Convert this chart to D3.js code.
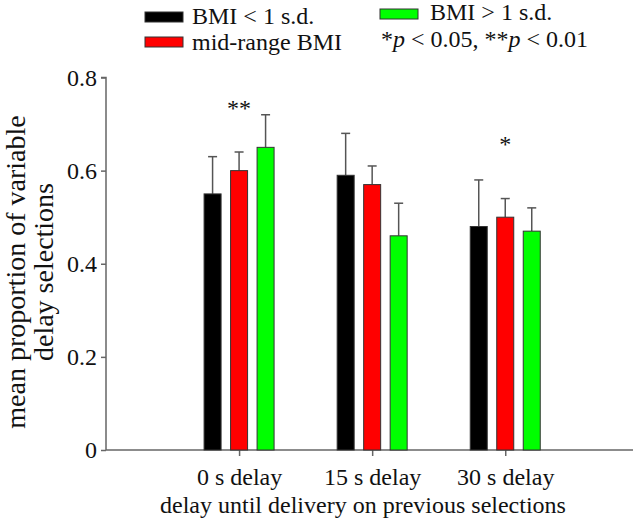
<!DOCTYPE html>
<html>
<head>
<meta charset="utf-8">
<script src="https://cdn.jsdelivr.net/npm/d3@7"></script>
<style>
  body { margin: 0; background: #fff; }
  svg text { font-family: "Liberation Serif", "Times New Roman", serif !important; fill: #111; }
</style>
</head>
<body>
<div id="vis"></div>
<script>
// categories and series
const categories = ["0 s delay", "15 s delay", "30 s delay"];
const series = ["BMI < 1 s.d.", "mid-range BMI", "BMI > 1 s.d."];
const colours = ["#000000", "#ff0000", "#00ff00"];

// mean values, one array per series (by category)
const lowBMI = [0.55, 0.59, 0.48];
const midBMI = [0.60, 0.57, 0.50];
const highBMI = [0.65, 0.46, 0.47];

// upper end of the error bars
const lowErr = [0.63, 0.68, 0.58];
const midErr = [0.64, 0.61, 0.54];
const highErr = [0.72, 0.53, 0.52];

// significance marks per category, and the level they sit at
const sigMarks = ["**", "", "*"];
const sigLevel = [0.736, 0, 0.66];

const yTicks = [0, 0.2, 0.4, 0.6, 0.8];

const width = 634;
const height = 523;

const means = [lowBMI, midBMI, highBMI];
const errs = [lowErr, midErr, highErr];

// flatten into bar records
const bars = [];
series.forEach((s, si) => {
  categories.forEach((c, ci) => {
    bars.push({ series: s, si: si, cat: c, ci: ci, value: means[si][ci], err: errs[si][ci] });
  });
});

const svg = d3.select('#vis')
  .append('svg')
  .attr('width', width)
  .attr('height', height)
  .attr('font-family', '"Liberation Serif", serif');

// scales
const x = d3.scaleLinear()
  .domain([0, 3.96])
  .range([106, 633]);

const offset = d3.scalePoint()
  .domain(series)
  .range([-26.5, 26.5]);

const y = d3.scaleLinear()
  .domain([0, 0.8])
  .range([450, 77.5]);

const fill = d3.scaleOrdinal().domain(series).range(colours);

const barWidth = 17;

// y axis
const yAxis = svg.append('g')
  .attr('transform', `translate(${x(0)},0)`)
  .call(d3.axisLeft(y).tickValues(yTicks).tickFormat(d => d === 0 ? '0' : d3.format('.1f')(d)).tickSize(5).tickPadding(4));

// x axis
const xAxis = svg.append('g')
  .attr('transform', `translate(0,${y(0)})`)
  .call(d3.axisBottom(x).tickValues([1, 2, 3]).tickFormat(d => categories[d - 1]).tickSize(6));

[yAxis, xAxis].forEach(ax => {
  ax.attr('font-family', '"Liberation Serif", serif');
  ax.select('.domain').attr('stroke', '#666').attr('stroke-width', 1.5);
  ax.selectAll('.tick line').attr('stroke', '#666').attr('stroke-width', 1.5);
  ax.selectAll('.tick text').style('font-size', '24px').attr('fill', '#111');
});
xAxis.select('.domain').attr('d', `M${x(0)},0H${x(3.96)}`);
yAxis.select('.domain').attr('d', `M-5,${y(0.8)}H0V${y(0)}`);
xAxis.selectAll('.tick text').attr('y', 18);

// error bars
const errG = svg.append('g');
errG.selectAll('line.stem')
  .data(bars)
  .enter()
  .append('line')
  .attr('x1', d => x(d.ci + 1) + offset(d.series))
  .attr('x2', d => x(d.ci + 1) + offset(d.series))
  .attr('y1', d => y(d.value))
  .attr('y2', d => y(d.err))
  .attr('stroke', '#555')
  .attr('stroke-width', 1.5);

errG.selectAll('line.cap')
  .data(bars)
  .enter()
  .append('line')
  .attr('x1', d => x(d.ci + 1) + offset(d.series) - 4.5)
  .attr('x2', d => x(d.ci + 1) + offset(d.series) + 4.5)
  .attr('y1', d => y(d.err))
  .attr('y2', d => y(d.err))
  .attr('stroke', '#555')
  .attr('stroke-width', 1.5);

// bars
svg.append('g')
  .selectAll('rect')
  .data(bars)
  .enter()
  .append('rect')
  .attr('x', d => x(d.ci + 1) + offset(d.series) - barWidth / 2)
  .attr('y', d => y(d.value))
  .attr('width', barWidth)
  .attr('height', d => y(0) - y(d.value))
  .attr('fill', d => fill(d.series))
  .attr('stroke', '#333')
  .attr('stroke-width', 1);

// significance asterisks
svg.append('g')
  .selectAll('text')
  .data(sigMarks.map((m, i) => ({ m: m, i: i, level: sigLevel[i] })).filter(d => d.m))
  .enter()
  .append('text')
  .attr('x', d => x(d.i + 1))
  .attr('y', d => y(d.level) + 9)
  .attr('text-anchor', 'middle')
  .style('font-size', '24px')
  .attr('fill', '#333')
  .text(d => d.m);

// axis titles
svg.append('text')
  .attr('x', 363)
  .attr('y', 513)
  .attr('text-anchor', 'middle')
  .style('font-size', '24px')
  .text('delay until delivery on previous selections');

const yTitle = svg.append('text')
  .attr('transform', 'translate(0,272) rotate(-90)')
  .attr('text-anchor', 'middle')
  .style('font-size', '28px');
yTitle.append('tspan').attr('x', 0).attr('y', 25).text('mean proportion of variable');
yTitle.append('tspan').attr('x', 0).attr('y', 53).text('delay selections');

// legend
const legendPos = [
  { sx: 145, sy: 12, tx: 192, ty: 24 },
  { sx: 145, sy: 37, tx: 192, ty: 50 },
  { sx: 380, sy: 9, tx: 430, ty: 20 }
];
const legend = svg.append('g')
  .selectAll('g')
  .data(series)
  .enter()
  .append('g');

legend.append('rect')
  .attr('x', (d, i) => legendPos[i].sx)
  .attr('y', (d, i) => legendPos[i].sy)
  .attr('width', 38)
  .attr('height', 10)
  .attr('fill', d => fill(d))
  .attr('stroke', '#333')
  .attr('stroke-width', 1);

legend.append('text')
  .attr('x', (d, i) => legendPos[i].tx)
  .attr('y', (d, i) => legendPos[i].ty)
  .style('font-size', '24px')
  .text(d => d);

// p-value note
const note = svg.append('text')
  .attr('x', 381)
  .attr('y', 47)
  .style('font-size', '24px');
note.append('tspan').text('*');
note.append('tspan').style('font-style', 'italic').text('p');
note.append('tspan').text(' < 0.05, **');
note.append('tspan').style('font-style', 'italic').text('p');
note.append('tspan').text(' < 0.01');
</script>
</body>
</html>
